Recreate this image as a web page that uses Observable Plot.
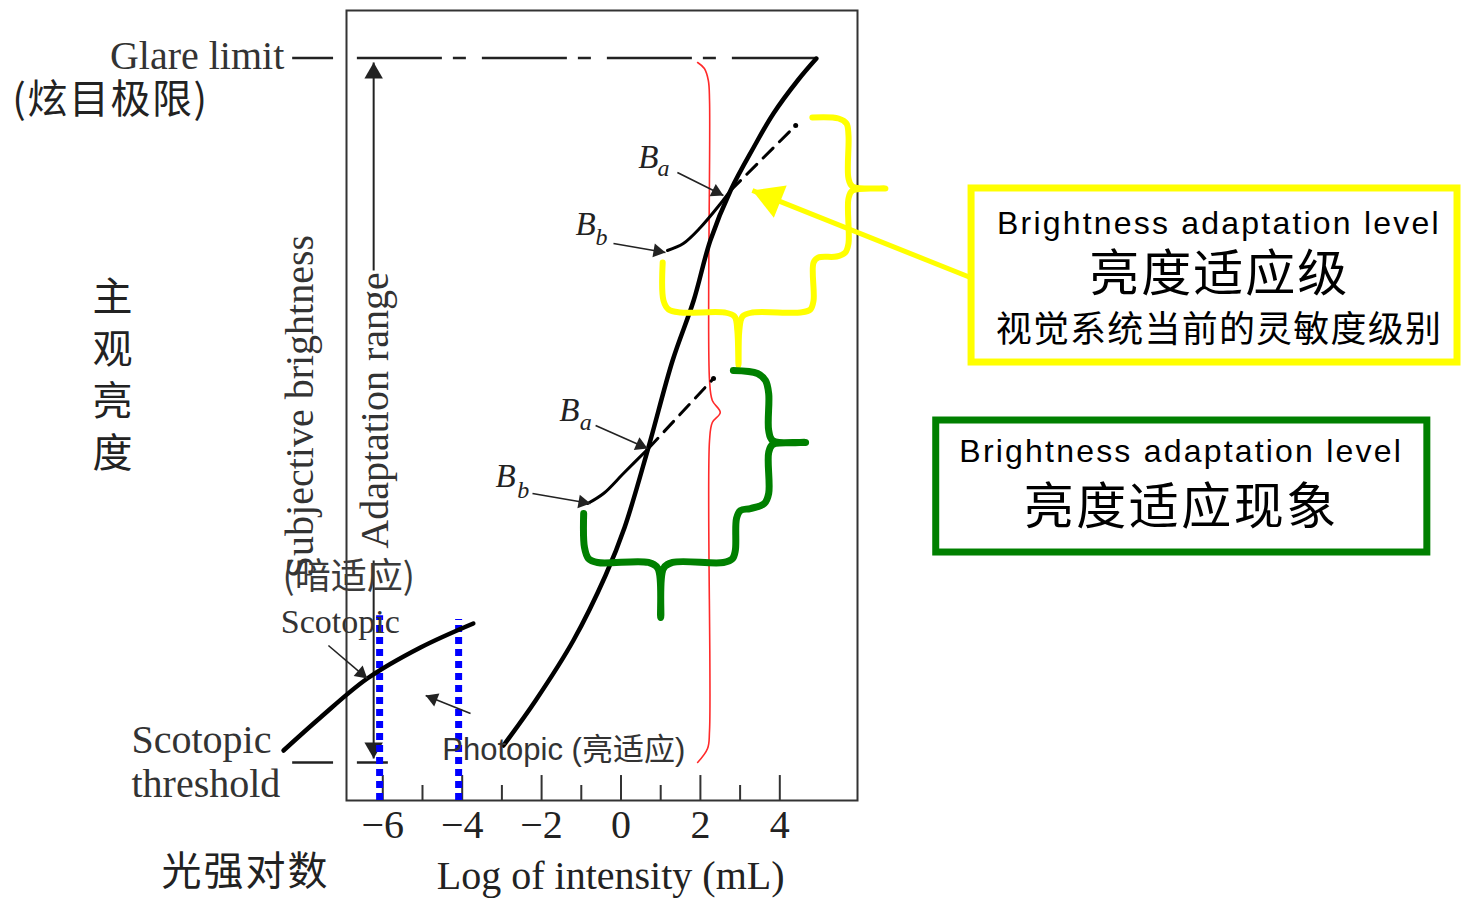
<!DOCTYPE html>
<html>
<head>
<meta charset="utf-8">
<script src="https://cdn.jsdelivr.net/npm/d3@7"></script>
<script src="https://cdn.jsdelivr.net/npm/@observablehq/plot@0.6"></script>
<style>
  html, body { margin: 0; padding: 0; background: #fff; overflow: hidden; }
  #chart svg { display: block; }
</style>
</head>
<body>
<div id="chart"></div>
<script>
// ---------------- data (log intensity in mL on x, subjective brightness 0–100 on y) ----------------
const xTicks = [-6, -4, -2, 0, 2, 4];
const minorTicks = [-5, -3, -1, 1, 3];

// photopic (main) brightness curve
const photopicX = [-2.96, -2.15, -1.20, -0.39, 0.09, 0.69, 1.30, 1.83, 2.25, 2.76, 3.34, 3.84, 4.45, 4.92];
const photopicY = [6.96, 12.66, 20.25, 28.48, 34.56, 44.68, 55.70, 63.29, 70.89, 77.22, 82.66, 86.96, 91.14, 93.92];

// scotopic curve
const scotopicX = [-8.50, -7.57, -6.39, -5.05, -3.72];
const scotopicY = [6.33, 10.51, 15.44, 19.37, 22.41];

// short-range curves at two adaptation levels (solid part, Bb -> Ba)
const upperBbX = [1.17, 1.57, 2.00, 2.51, 2.76];
const upperBbY = [69.62, 70.51, 72.53, 75.57, 77.22];
const lowerBbX = [-0.84, -0.44, 0.06, 0.69];
const lowerBbY = [37.59, 38.86, 41.39, 44.56];
// dashed continuation above Ba
const upperDashX = [2.76, 4.40];
const upperDashY = [77.22, 85.44];
const lowerDashX = [0.69, 2.33];
const lowerDashY = [44.56, 53.42];

// levels
const glareLevel = 93.99;
const thresholdLevel = 4.81;
const adaptationX = -6.23;
const blueLinesX = [-6.08, -4.09];
const blueLinesTop = [23.4, 22.9];

// annotation arrows [x1, y1, x2, y2]
const pointerArrows = [
  [1.42, 79.49, 2.58, 76.58],    // upper Ba
  [-0.19, 70.51, 1.12, 69.37],   // upper Bb
  [-0.64, 47.47, 0.67, 44.56],   // lower Ba
  [-2.23, 38.86, -0.77, 37.59],  // lower Bb
  [-7.37, 19.62, -6.39, 15.44],  // scotopic
  [-3.79, 11.01, -4.92, 13.29]   // photopic
];
const rangeArrows = [
  [adaptationX, 67.09, adaptationX, 93.42],
  [adaptationX, 30.38, adaptationX, 5.32]
];
const yellowArrow = [[8.80, 66.20, 3.31, 77.22]];

// braces
const redBraceX = [1.93, 2.10, 2.20, 2.23, 2.23, 2.30, 2.50, 2.30, 2.23, 2.23, 2.18, 1.93];
const redBraceY = [93.42, 92.66, 91.14, 88.61, 53.16, 50.63, 49.11, 47.85, 45.57, 8.86, 6.58, 4.81];
const yellowBraceX = [4.82, 5.48, 5.68, 5.73, 5.73, 5.83, 6.66, 5.83, 5.73, 5.73, 5.65, 5.43, 4.97, 4.85, 4.85, 4.77, 4.52, 3.31, 3.06, 2.98, 2.96, 2.93, 2.86, 2.61, 1.50, 1.20, 1.07, 1.05];
const yellowBraceY = [86.46, 86.33, 85.70, 84.18, 78.73, 77.72, 77.47, 77.22, 76.20, 70.51, 69.37, 68.86, 68.73, 68.10, 63.29, 62.15, 61.77, 61.77, 61.27, 59.49, 55.06, 59.49, 61.27, 61.77, 61.77, 62.15, 63.29, 68.10];
const greenBraceX = [2.83, 3.44, 3.64, 3.72, 3.72, 3.82, 4.65, 3.82, 3.72, 3.72, 3.61, 3.26, 3.01, 2.91, 2.88, 2.81, 2.58, 1.30, 1.07, 1.00, 0.93, 0.69, -0.59, -0.82, -0.92, -0.94];
const greenBraceY = [54.43, 54.05, 53.16, 51.52, 46.84, 45.57, 45.32, 45.06, 44.05, 38.86, 37.59, 36.96, 36.71, 35.70, 31.65, 30.63, 30.13, 30.13, 29.37, 23.16, 29.37, 30.13, 30.13, 30.63, 32.03, 36.33];

// call-out boxes [x1, y1, x2, y2]
const yellowBox = [[8.83, 77.47, 21.07, 55.44]];
const greenBox = [[7.94, 48.10, 20.31, 31.39]];

// text strings
const boxTitle = "Brightness adaptation level";
const yellowBoxCN = ["亮度适应级", "视觉系统当前的灵敏度级别"];
const greenBoxCN = "亮度适应现象";
const yAxisCN = "主\n观\n亮\n度";
const xAxisCN = "光强对数";
const xAxisTitle = "Log of intensity (mL)";
const yAxisTitle = "Subjective brightness";

// ---------------- chart ----------------
const W = 1461, H = 898, ML = 346, MR = 604, MT = 10, MB = 98;
const xDomain = [-6.914, 5.957], yDomain = [0, 100];
const kx = (W - ML - MR) / (xDomain[1] - xDomain[0]);
const ky = (H - MT - MB) / (yDomain[1] - yDomain[0]);

const serif = "'Liberation Serif', 'Times New Roman', serif";
const sans = "'Liberation Sans', Arial, 'Noto Sans CJK SC', sans-serif";
const cjk = "'Noto Sans CJK SC', sans-serif";
const ink = "#222";

const pts = (xs, ys) => d3.zip(xs, ys);
const P = {x: d => d[0], y: d => d[1]};
const A = {x1: d => d[0], y1: d => d[1], x2: d => d[2], y2: d => d[3]};
const minus = d => d < 0 ? "\u2212" + (-d) : String(d);

// filled triangular arrow heads, tip at (x2, y2)
function heads(arr, len) {
  return arr.map(([x1, y1, x2, y2]) => {
    const dxp = (x2 - x1) * kx, dyp = -(y2 - y1) * ky;
    const L = Math.hypot(dxp, dyp), ux = dxp / L, uy = dyp / L;
    const c = len * 2 / 3;
    return {x: x2 - ux * c / kx, y: y2 + uy * c / ky, rot: Math.atan2(ux, -uy) * 180 / Math.PI};
  });
}
function arrowMarks(arr, color, width, len) {
  return [
    Plot.link(arr, {...A, stroke: color, strokeWidth: width}),
    Plot.dot(heads(arr, len), {x: "x", y: "y", rotate: "rot", symbol: "triangle", r: 0.4286 * len, fill: color, stroke: "none"})
  ];
}

const chart = Plot.plot({
  width: W,
  height: H,
  marginLeft: ML,
  marginRight: MR,
  marginTop: MT,
  marginBottom: MB,
  x: {domain: xDomain, axis: null},
  y: {domain: yDomain, axis: null},
  style: {background: "white", overflow: "visible"},
  marks: [
    Plot.frame({stroke: "#333", strokeWidth: 2}),
    // inward ticks and labels
    Plot.ruleX(xTicks, {x: d => d, y1: 0, y2: 3.16, stroke: "#333", strokeWidth: 2}),
    Plot.ruleX(minorTicks, {x: d => d, y1: 0, y2: 1.9, stroke: "#333", strokeWidth: 2}),
    Plot.text(xTicks, {x: d => d, y: -3.1, text: minus, fontFamily: serif, fontSize: 40, fill: ink}),
    Plot.text([xAxisTitle], {x: -0.26, y: -9.6, text: d => d, fontFamily: serif, fontSize: 40, fill: ink}),
    Plot.text([xAxisCN], {x: -9.46, y: -9.1, text: d => d, fontFamily: cjk, fontSize: 40, fill: ink}),
    Plot.text([yAxisCN], {x: -12.81, y: 54.2, text: d => d, lineHeight: 1.3, lineAnchor: "middle", fontFamily: cjk, fontSize: 40, fill: ink}),
    Plot.text([yAxisTitle], {x: -8.07, y: 49.87, text: d => d, rotate: -90, fontFamily: serif, fontSize: 40, fill: "#333"}),

    // glare limit and scotopic threshold
    Plot.ruleY([glareLevel], {x1: -6.64, x2: 4.97, stroke: ink, strokeWidth: 2.5, strokeDasharray: "85,11,13,16"}),
    Plot.ruleY([glareLevel], {x1: -8.27, x2: -7.24, stroke: ink, strokeWidth: 2.5}),
    Plot.ruleY([thresholdLevel], {x1: -8.27, x2: -7.24, stroke: ink, strokeWidth: 2.5}),
    Plot.ruleY([thresholdLevel], {x1: -6.64, x2: -5.86, stroke: ink, strokeWidth: 2.5}),
    Plot.text(["Glare limit"], {x: -8.48, y: 94.25, text: d => d, textAnchor: "end", fontFamily: serif, fontSize: 40, fill: "#333"}),
    Plot.text(["(炫目极限)"], {x: -15.33, y: 88.7, text: d => d, textAnchor: "start", fontFamily: cjk, fontSize: 40, fill: ink}),
    Plot.text(["Scotopic", "threshold"], {x: -12.33, y: (d, i) => [7.59, 2.03][i], text: d => d, textAnchor: "start", fontFamily: serif, fontSize: 40, fill: "#333"}),

    // adaptation range
    ...arrowMarks(rangeArrows, ink, 2, 16),
    Plot.text(["Adaptation range"], {x: -6.18, y: 49.37, text: d => d, rotate: -90, fontFamily: serif, fontSize: 40, fill: "#333"}),

    // red brace
    Plot.line(pts(redBraceX, redBraceY), {...P, stroke: "#ff2a2a", strokeWidth: 1.6, curve: "catmull-rom"}),

    // blue dotted lines
    Plot.ruleX(blueLinesX, {x: d => d, y1: 0, y2: (d, i) => blueLinesTop[i], stroke: "#0000ff", strokeWidth: 7, strokeDasharray: "7,5"}),

    // curves
    Plot.line(pts(scotopicX, scotopicY), {...P, stroke: "#000", strokeWidth: 4.5, curve: "catmull-rom"}),
    Plot.line(pts(photopicX, photopicY), {...P, stroke: "#000", strokeWidth: 4.5, curve: "catmull-rom"}),
    Plot.line(pts(upperBbX, upperBbY), {...P, stroke: "#000", strokeWidth: 3, curve: "catmull-rom"}),
    Plot.line(pts(lowerBbX, lowerBbY), {...P, stroke: "#000", strokeWidth: 3, curve: "catmull-rom"}),
    Plot.line(pts(upperDashX, upperDashY), {...P, stroke: "#000", strokeWidth: 3, strokeDasharray: "14,9"}),
    Plot.line(pts(lowerDashX, lowerDashY), {...P, stroke: "#000", strokeWidth: 3, strokeDasharray: "14,9"}),
    Plot.dot([[upperDashX[1], upperDashY[1]], [lowerDashX[1], lowerDashY[1]]], {...P, r: 2.5, fill: "#000"}),

    // pointer arrows and labels
    ...arrowMarks(pointerArrows, ink, 1.6, 12),
    Plot.text(["B", "B", "B", "B"], {x: (d, i) => [0.69, -0.89, -1.30, -2.91][i], y: (d, i) => [81.39, 72.91, 49.37, 41.01][i], text: d => d, fontFamily: serif, fontStyle: "italic", fontSize: 33, fill: ink}),
    Plot.text(["a", "b", "a", "b"], {x: (d, i) => [1.07, -0.49, -0.89, -2.46][i], y: (d, i) => [80.0, 71.27, 47.85, 39.24][i], text: d => d, fontFamily: serif, fontStyle: "italic", fontSize: 24, fill: ink}),
    Plot.text(["Scotopic"], {x: -7.07, y: 22.53, text: d => d, fontFamily: serif, fontSize: 34, fill: "#333"}),
    Plot.text(["(暗适应)"], {x: -6.86, y: 28.23, text: d => d, fontFamily: cjk, fontSize: 36, fill: "#3a3a3a"}),
    Plot.text(["Photopic (亮适应)"], {x: -4.50, y: 6.33, text: d => d, textAnchor: "start", fontFamily: sans, fontSize: 31, fill: "#333"}),

    // braces
    Plot.line(pts(yellowBraceX, yellowBraceY), {...P, stroke: "#ffff00", strokeWidth: 6, strokeLinejoin: "round", strokeLinecap: "round", curve: "catmull-rom"}),
    Plot.line(pts(greenBraceX, greenBraceY), {...P, stroke: "#008000", strokeWidth: 7, strokeLinejoin: "round", strokeLinecap: "round", curve: "catmull-rom"}),

    // call-out boxes
    Plot.rect(yellowBox, {...A, fill: "white", stroke: "#ffff00", strokeWidth: 7}),
    Plot.rect(greenBox, {...A, fill: "white", stroke: "#008000", strokeWidth: 7}),
    ...arrowMarks(yellowArrow, "#ffff00", 5, 30),
    Plot.text([boxTitle], {x: 15.06, y: 73.04, text: d => d, fontFamily: sans, fontSize: 32, fill: "#000"}),
    Plot.text([yellowBoxCN[0]], {x: 15.07, y: 66.58, text: d => d, fontFamily: cjk, fontSize: 50, fill: "#000"}),
    Plot.text([yellowBoxCN[1]], {x: 15.06, y: 59.49, text: d => d, fontFamily: cjk, fontSize: 36, fill: "#000"}),
    Plot.text([boxTitle], {x: 14.11, y: 44.1, text: d => d, fontFamily: sans, fontSize: 32, fill: "#000"}),
    Plot.text([greenBoxCN], {x: 14.11, y: 37.0, text: d => d, fontFamily: cjk, fontSize: 50, fill: "#000"})
  ]
});

// widen the call-out lettering to the reference's spacing
chart.querySelectorAll("text").forEach(t => {
  if (t.textContent === boxTitle) t.setAttribute("letter-spacing", "2.2");
  if (t.textContent === yellowBoxCN[0]) t.setAttribute("letter-spacing", "2");
  if (t.textContent === greenBoxCN) t.setAttribute("letter-spacing", "2.5");
  if (t.textContent === yellowBoxCN[1]) t.setAttribute("letter-spacing", "1.2");
  if (t.textContent === xAxisCN) t.setAttribute("letter-spacing", "2");
  if (t.textContent === "(炫目极限)") t.setAttribute("letter-spacing", "1.5");
});

document.getElementById("chart").appendChild(chart);
</script>
</body>
</html>
